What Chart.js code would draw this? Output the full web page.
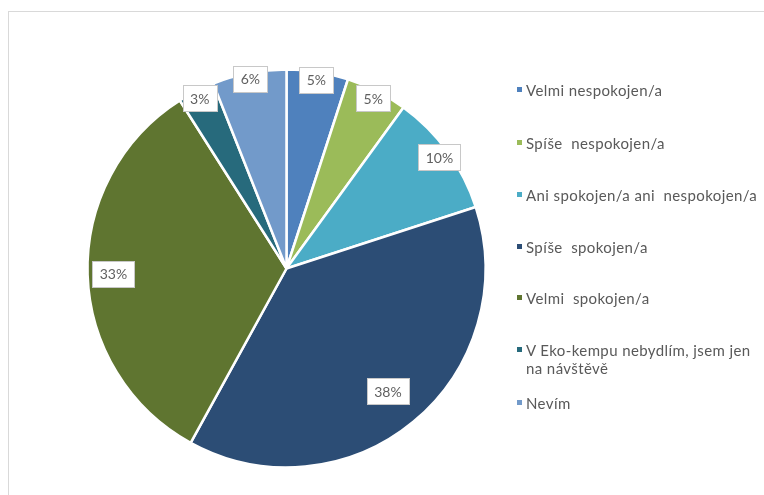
<!DOCTYPE html>
<html>
<head>
<meta charset="utf-8">
<script src="https://cdn.jsdelivr.net/npm/chart.js@4.4.0/dist/chart.umd.min.js"></script>
<style>
  html, body { margin: 0; padding: 0; background: #fff; }
  #wrap { position: relative; width: 764px; height: 495px; overflow: hidden; }
  #frame { position: absolute; left: 8px; top: 11px; width: 800px; height: 600px;
           border-top: 1px solid #d9d9d9; border-left: 1px solid #d9d9d9; }
  #graf { position: absolute; left: 0; top: 0; }
  #legenda { position: absolute; left: 517px; top: 0; font-family: Lato, sans-serif;
             font-size: 15px; letter-spacing: 0.4px; color: #595959; }
  .pol { position: absolute; left: 0; width: 234px; line-height: 18px; padding-left: 9px; }
  .pol span { position: absolute; left: 0; top: 6px; width: 5px; height: 5px; }
</style>
</head>
<body>
<div id="wrap">
  <div id="frame"></div>
  <canvas id="graf" width="764" height="495"></canvas>
  <div id="legenda"></div>
</div>
<script>
// ----------------- data -----------------
var kategorie = [
    "Velmi nespokojen/a",
    "Spíše  nespokojen/a",
    "Ani spokojen/a ani  nespokojen/a",
    "Spíše  spokojen/a",
    "Velmi  spokojen/a",
    "V Eko-kempu nebydlím, jsem jen na návštěvě",
    "Nevím"
];
var procenta = [5, 5, 10, 38, 33, 3, 6];
var barvy = ["#4f81bd", "#9bbb59", "#4bacc6", "#2c4d75", "#5f7530", "#276a7c", "#729aca"];

// jak daleko od stredu je popisek (podil polomeru)
var polohaPopisku = [0.96, 0.96, 0.95, 0.8, 0.87, 0.96, 0.97];
// svisle pozice polozek legendy
var legendaY = [81, 134, 186, 238, 289, 341, 394];

// ----------------- popisky -----------------
var popisky = {
    id: 'popisky',
    afterDatasetsDraw: function(chart) {
        var ctx = chart.ctx;
        var meta = chart.getDatasetMeta(0);
        ctx.save();
        ctx.font = "14px Lato";
        ctx.textAlign = "center";
        ctx.textBaseline = "middle";
        meta.data.forEach(function(arc, i) {
            var p = arc.getProps(['x', 'y', 'startAngle', 'endAngle', 'outerRadius'], true);
            var uhel = (p.startAngle + p.endAngle) / 2;
            var r = p.outerRadius * polohaPopisku[i];
            var x = p.x + Math.cos(uhel) * r;
            var y = p.y + Math.sin(uhel) * r;
            var txt = procenta[i] + "%";
            var w = ctx.measureText(txt).width + 15;
            var h = 26;
            ctx.fillStyle = "#ffffff";
            ctx.fillRect(Math.round(x - w / 2), Math.round(y - h / 2), Math.round(w), h);
            ctx.strokeStyle = "#c8c8c8";
            ctx.lineWidth = 1;
            ctx.strokeRect(Math.round(x - w / 2) + 0.5, Math.round(y - h / 2) + 0.5, Math.round(w), h);
            ctx.fillStyle = "#606060";
            ctx.fillText(txt, x, y + 1);
        });
        ctx.restore();
    }
};

var c = document.getElementById("graf");
var chart = new Chart(c, {
    type: 'pie',
    data: {
        labels: kategorie,
        datasets: [{
            data: procenta,
            backgroundColor: barvy,
            borderColor: "#ffffff",
            borderWidth: 2.5
        }]
    },
    options: {
        responsive: false,
        animation: false,
        radius: 199,
        layout: { padding: { left: 87, right: 278, top: 69, bottom: 27 } },
        plugins: {
            legend: { display: false },
            tooltip: { enabled: false }
        }
    },
    plugins: [popisky]
});

// ----------------- legenda -----------------
var leg = document.getElementById("legenda");
kategorie.forEach(function(k, i) {
    var d = document.createElement("div");
    d.className = "pol";
    d.style.top = legendaY[i] + "px";
    d.innerHTML = '<span style="background:' + barvy[i] + '"></span>' + k.replace(/  /g, " &nbsp;");
    leg.appendChild(d);
});
</script>
</body>
</html>
